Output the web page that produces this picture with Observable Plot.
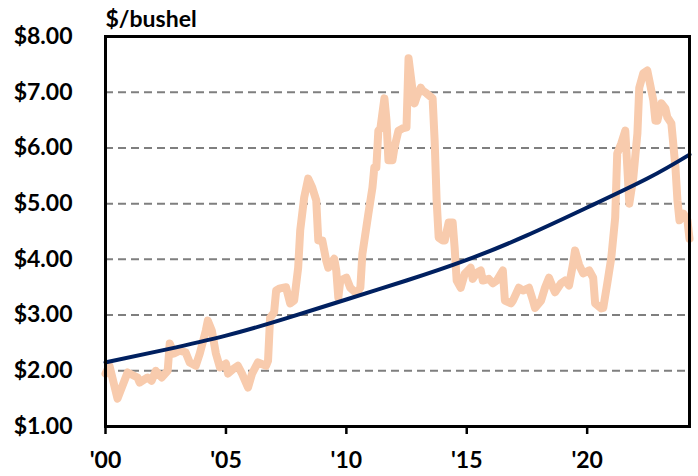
<!DOCTYPE html>
<html>
<head>
<meta charset="utf-8">
<script src="https://cdn.jsdelivr.net/npm/d3@7"></script>
<script src="https://cdn.jsdelivr.net/npm/@observablehq/plot@0.6"></script>
<style>
  html, body { margin: 0; padding: 0; background: #ffffff; }
  #chart svg { display: block; }
</style>
</head>
<body>
<div id="chart"></div>
<script>
// Monthly price received ($/bushel)
const priceDates = [
  "2000-01","2000-03","2000-07","2000-12","2001-05","2001-06","2001-10","2001-12",
  "2002-02","2002-05","2002-08","2002-09","2002-11","2003-02","2003-05","2003-07",
  "2003-10","2003-12","2004-03","2004-04","2004-06","2004-08","2004-10","2005-01",
  "2005-02","2005-05","2005-07","2005-09","2005-12","2006-02","2006-05","2006-09",
  "2006-10","2006-11","2007-01","2007-02","2007-04","2007-07","2007-09","2007-11",
  "2008-01","2008-02","2008-04","2008-06","2008-08","2008-10","2008-11","2009-01",
  "2009-03","2009-04","2009-07","2009-08","2009-09","2009-10","2010-01","2010-03",
  "2010-06","2010-08","2010-09","2010-12","2011-02","2011-03","2011-04","2011-05",
  "2011-06","2011-08","2011-09","2011-10","2011-12","2012-01","2012-03","2012-05",
  "2012-07","2012-08","2012-10","2012-11","2012-12","2013-02","2013-03","2013-05",
  "2013-08","2013-09","2013-10","2013-11","2014-01","2014-02","2014-04","2014-06",
  "2014-07","2014-08","2014-10","2014-12","2015-03","2015-04","2015-06","2015-08",
  "2015-09","2015-12","2016-02","2016-04","2016-07","2016-08","2016-11","2016-12",
  "2017-03","2017-05","2017-08","2017-10","2017-11","2018-02","2018-04","2018-06",
  "2018-08","2018-09","2018-12","2019-02","2019-04","2019-06","2019-07","2019-09",
  "2019-11","2020-02","2020-04","2020-05","2020-08","2020-09","2020-11","2021-01",
  "2021-03","2021-04","2021-06","2021-08","2021-09","2021-10","2021-12","2022-02",
  "2022-03","2022-05","2022-07","2022-08","2022-10","2022-11","2022-12","2023-02",
  "2023-04","2023-05","2023-07","2023-09","2023-10","2023-11","2024-01","2024-03",
  "2024-04"
];
const priceValues = [
  1.95,2.09,1.50,1.97,1.88,1.79,1.88,1.82,
  2.00,1.88,2.00,2.49,2.31,2.36,2.33,2.15,
  2.09,2.31,2.72,2.90,2.72,2.31,2.06,2.13,
  1.95,2.04,2.09,1.95,1.70,1.95,2.15,2.09,
  2.18,2.95,3.05,3.44,3.48,3.50,3.21,3.26,
  3.85,4.52,5.11,5.45,5.29,5.06,4.34,4.34,
  3.98,3.85,4.01,3.80,3.31,3.62,3.67,3.49,
  3.39,3.49,4.10,4.82,5.29,5.65,5.65,6.31,
  6.35,6.89,6.50,5.78,5.78,6.01,6.31,6.35,
  6.37,7.61,7.03,6.80,6.91,7.08,7.03,6.98,
  6.89,6.13,5.06,4.39,4.34,4.34,4.66,4.66,
  4.21,3.62,3.49,3.74,3.85,3.65,3.76,3.80,
  3.62,3.65,3.57,3.62,3.80,3.26,3.21,3.26,
  3.49,3.44,3.49,3.26,3.13,3.26,3.49,3.67,
  3.49,3.41,3.57,3.62,3.53,3.92,4.16,3.90,
  3.75,3.80,3.67,3.21,3.12,3.13,3.57,4.03,
  4.75,5.90,6.08,6.31,5.65,5.00,5.47,6.26,
  7.08,7.34,7.39,7.21,6.85,6.49,6.49,6.80,
  6.71,6.55,6.44,5.65,5.06,4.70,4.82,4.70,
  4.37
];
// Trend line
const trendDates  = ["2000-01","2002-07","2005-01","2007-07","2010-01","2012-07","2015-01","2017-07","2020-01","2022-07","2024-04"];
const trendValues = [2.15,2.38,2.63,2.94,3.28,3.62,3.99,4.43,4.93,5.45,5.88];

const yTickValues = [1,2,3,4,5,6,7,8];
const gridValues  = [2,3,4,5,6,7];
const xTickYears  = [2000,2005,2010,2015,2020];
const xTickLabels = ["'00","'05","'10","'15","'20"];
const xDomainDates = ["2000-01","2024-04"];
const unitLabel = "$/bushel";

const parse = d3.utcParse("%Y-%m");
const price = priceDates.map((d, i) => ({date: parse(d), value: priceValues[i]}));
const trend = trendDates.map((d, i) => ({date: parse(d), value: trendValues[i]}));
const xTicks = xTickYears.map(y => new Date(Date.UTC(y, 0, 1)));

const FONT = "Lato, 'Open Sans', 'DejaVu Sans', sans-serif";

const chart = Plot.plot({
  width: 698,
  height: 476,
  marginLeft: 105,
  marginRight: 9,
  marginTop: 36,
  marginBottom: 50,
  style: {fontFamily: FONT, fontSize: "23px", fontWeight: "bold", color: "#000", background: "#fff"},
  x: {type: "utc", domain: xDomainDates.map(parse)},
  y: {domain: [1, 8]},
  marks: [
    Plot.ruleY(gridValues, {stroke: "#7f7f7f", strokeWidth: 2, strokeDasharray: "8,5"}),
    Plot.line(price, {x: "date", y: "value", stroke: "#F8CBAD", strokeWidth: 8, strokeLinejoin: "round", strokeLinecap: "round"}),
    Plot.line(trend, {x: "date", y: "value", stroke: "#002060", strokeWidth: 4, curve: "natural"}),
    Plot.frame({stroke: "#000", strokeWidth: 3}),
    Plot.axisY({
      ticks: yTickValues,
      tickFormat: d => "$" + d.toFixed(2),
      tickSize: 0,
      tickPadding: 33,
      fontSize: 23,
      fontWeight: "bold",
      label: null
    }),
    Plot.text([unitLabel], {
      text: d => d,
      frameAnchor: "top-left",
      textAnchor: "start",
      lineAnchor: "middle",
      dy: -17,
      fontSize: 23,
      fontWeight: "bold",
      fill: "#000"
    }),
    Plot.axisX({
      ticks: xTicks,
      tickFormat: d => xTickLabels[xTickYears.indexOf(d.getUTCFullYear())],
      tickSize: 8,
      tickPadding: 17,
      strokeWidth: 2.5,
      fontSize: 23,
      fontWeight: "bold",
      label: null
    })
  ]
});
document.getElementById("chart").appendChild(chart);
</script>
</body>
</html>
